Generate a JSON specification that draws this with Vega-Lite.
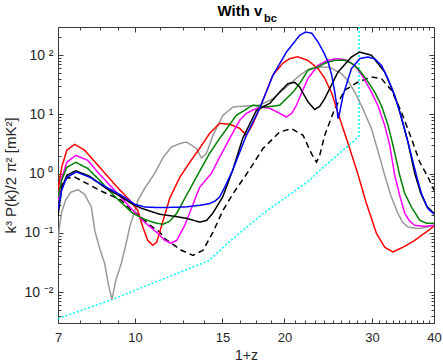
{
  "$schema": "https://vega.github.io/schema/vega-lite/v6.json",
  "autosize": "none",
  "padding": {"left": 58, "top": 27, "right": 9, "bottom": 41},
  "width": 376,
  "height": 296,
  "background": "white",
  "config": {
    "view": {"stroke": "#3a3a3a", "strokeWidth": 1},
    "font": "Liberation Sans",
    "axis": {
      "grid": false,
      "domain": false,
      "tickColor": "#3a3a3a",
      "tickWidth": 1,
      "labelFont": "Liberation Sans",
      "labelFontSize": 13,
      "labelColor": "#262626",
      "titleFont": "Liberation Sans",
      "titleFontSize": 14,
      "titleFontWeight": "normal",
      "titleColor": "#262626",
      "labelOverlap": false,
      "labelFlush": false,
      "labelBound": false
    }
  },
  "datasets": {
    "curves": [
      {"s": "cyan", "x": 7.0, "y": 0.00356},
      {"s": "cyan", "x": 8.99, "y": 0.00745},
      {"s": "cyan", "x": 12.6, "y": 0.0233},
      {"s": "cyan", "x": 14.08, "y": 0.0337},
      {"s": "cyan", "x": 15.52, "y": 0.072},
      {"s": "cyan", "x": 18.1, "y": 0.211},
      {"s": "cyan", "x": 22.48, "y": 0.773},
      {"s": "cyan", "x": 23.37, "y": 1.07},
      {"s": "cyan", "x": 27.91, "y": 3.91},
      {"s": "cyan", "x": 28.25, "y": 4.3},
      {"s": "cyan", "x": 28.26, "y": 1000},

      {"s": "gray", "x": 7.0, "y": 0.0748},
      {"s": "gray", "x": 7.05, "y": 0.129},
      {"s": "gray", "x": 7.12, "y": 0.222},
      {"s": "gray", "x": 7.25, "y": 0.355},
      {"s": "gray", "x": 7.42, "y": 0.484},
      {"s": "gray", "x": 7.68, "y": 0.537},
      {"s": "gray", "x": 7.92, "y": 0.448},
      {"s": "gray", "x": 8.17, "y": 0.273},
      {"s": "gray", "x": 8.3, "y": 0.11},
      {"s": "gray", "x": 8.49, "y": 0.0548},
      {"s": "gray", "x": 8.69, "y": 0.0306},
      {"s": "gray", "x": 8.85, "y": 0.013},
      {"s": "gray", "x": 8.99, "y": 0.00745},
      {"s": "gray", "x": 9.15, "y": 0.0158},
      {"s": "gray", "x": 9.39, "y": 0.0306},
      {"s": "gray", "x": 9.58, "y": 0.0616},
      {"s": "gray", "x": 9.76, "y": 0.1256},
      {"s": "gray", "x": 10.0, "y": 0.24},
      {"s": "gray", "x": 10.14, "y": 0.355},
      {"s": "gray", "x": 10.46, "y": 0.565},
      {"s": "gray", "x": 10.96, "y": 1.01},
      {"s": "gray", "x": 11.37, "y": 1.82},
      {"s": "gray", "x": 11.84, "y": 2.82},
      {"s": "gray", "x": 12.31, "y": 3.22},
      {"s": "gray", "x": 12.69, "y": 3.42},
      {"s": "gray", "x": 13.01, "y": 3.01},
      {"s": "gray", "x": 13.3, "y": 2.65},
      {"s": "gray", "x": 13.61, "y": 1.84},
      {"s": "gray", "x": 13.93, "y": 2.21},
      {"s": "gray", "x": 14.36, "y": 4.44},
      {"s": "gray", "x": 15.04, "y": 9.67},
      {"s": "gray", "x": 15.76, "y": 13.4},
      {"s": "gray", "x": 16.76, "y": 13.9},
      {"s": "gray", "x": 17.83, "y": 14.3},
      {"s": "gray", "x": 18.96, "y": 18.5},
      {"s": "gray", "x": 20.18, "y": 29.1},
      {"s": "gray", "x": 21.46, "y": 45.8},
      {"s": "gray", "x": 22.48, "y": 59.5},
      {"s": "gray", "x": 23.73, "y": 63.3},
      {"s": "gray", "x": 24.67, "y": 62.5},
      {"s": "gray", "x": 26.03, "y": 49.0},
      {"s": "gray", "x": 26.81, "y": 37.7},
      {"s": "gray", "x": 27.7, "y": 23.9},
      {"s": "gray", "x": 28.74, "y": 12.7},
      {"s": "gray", "x": 29.93, "y": 5.77},
      {"s": "gray", "x": 30.82, "y": 2.48},
      {"s": "gray", "x": 31.83, "y": 0.937},
      {"s": "gray", "x": 32.73, "y": 0.431},
      {"s": "gray", "x": 33.85, "y": 0.211},
      {"s": "gray", "x": 34.59, "y": 0.151},
      {"s": "gray", "x": 35.45, "y": 0.1256},
      {"s": "gray", "x": 37.15, "y": 0.118},
      {"s": "gray", "x": 38.68, "y": 0.124},
      {"s": "gray", "x": 40.0, "y": 0.134},

      {"s": "dashed", "x": 7.0, "y": 0.383},
      {"s": "dashed", "x": 7.12, "y": 0.635},
      {"s": "dashed", "x": 7.29, "y": 0.834},
      {"s": "dashed", "x": 7.56, "y": 0.877},
      {"s": "dashed", "x": 7.92, "y": 0.714},
      {"s": "dashed", "x": 8.49, "y": 0.523},
      {"s": "dashed", "x": 9.39, "y": 0.355},
      {"s": "dashed", "x": 9.83, "y": 0.24},
      {"s": "dashed", "x": 10.22, "y": 0.198},
      {"s": "dashed", "x": 10.62, "y": 0.143},
      {"s": "dashed", "x": 11.22, "y": 0.103},
      {"s": "dashed", "x": 11.48, "y": 0.0799},
      {"s": "dashed", "x": 12.4, "y": 0.0507},
      {"s": "dashed", "x": 13.09, "y": 0.0417},
      {"s": "dashed", "x": 13.71, "y": 0.0507},
      {"s": "dashed", "x": 14.36, "y": 0.103},
      {"s": "dashed", "x": 15.04, "y": 0.24},
      {"s": "dashed", "x": 15.76, "y": 0.46},
      {"s": "dashed", "x": 16.89, "y": 1.07},
      {"s": "dashed", "x": 18.1, "y": 2.65},
      {"s": "dashed", "x": 19.56, "y": 5.05},
      {"s": "dashed", "x": 20.66, "y": 5.77},
      {"s": "dashed", "x": 21.8, "y": 4.44},
      {"s": "dashed", "x": 22.67, "y": 2.18},
      {"s": "dashed", "x": 23.2, "y": 1.57},
      {"s": "dashed", "x": 23.55, "y": 2.04},
      {"s": "dashed", "x": 24.1, "y": 4.44},
      {"s": "dashed", "x": 25.25, "y": 12.5},
      {"s": "dashed", "x": 26.45, "y": 25.6},
      {"s": "dashed", "x": 28.12, "y": 35.3},
      {"s": "dashed", "x": 29.93, "y": 42.9},
      {"s": "dashed", "x": 31.35, "y": 40.3},
      {"s": "dashed", "x": 32.84, "y": 25.6},
      {"s": "dashed", "x": 34.39, "y": 11.0},
      {"s": "dashed", "x": 36.03, "y": 3.91},
      {"s": "dashed", "x": 37.44, "y": 1.57},
      {"s": "dashed", "x": 38.9, "y": 0.877},
      {"s": "dashed", "x": 40.0, "y": 0.523},

      {"s": "red", "x": 7.0, "y": 0.523},
      {"s": "red", "x": 7.12, "y": 1.28},
      {"s": "red", "x": 7.29, "y": 2.48},
      {"s": "red", "x": 7.56, "y": 3.13},
      {"s": "red", "x": 7.92, "y": 2.48},
      {"s": "red", "x": 8.49, "y": 1.28},
      {"s": "red", "x": 9.1, "y": 0.66},
      {"s": "red", "x": 9.76, "y": 0.355},
      {"s": "red", "x": 10.13, "y": 0.24},
      {"s": "red", "x": 10.37, "y": 0.1256},
      {"s": "red", "x": 10.61, "y": 0.0748},
      {"s": "red", "x": 10.86, "y": 0.0616},
      {"s": "red", "x": 11.06, "y": 0.0692},
      {"s": "red", "x": 11.32, "y": 0.134},
      {"s": "red", "x": 11.75, "y": 0.383},
      {"s": "red", "x": 12.31, "y": 0.867},
      {"s": "red", "x": 12.89, "y": 1.55},
      {"s": "red", "x": 13.5, "y": 2.68},
      {"s": "red", "x": 14.14, "y": 4.8},
      {"s": "red", "x": 14.81, "y": 7.08},
      {"s": "red", "x": 15.52, "y": 6.82},
      {"s": "red", "x": 16.25, "y": 5.83},
      {"s": "red", "x": 16.76, "y": 4.44},
      {"s": "red", "x": 17.26, "y": 6.82},
      {"s": "red", "x": 17.83, "y": 12.7},
      {"s": "red", "x": 18.94, "y": 45.8},
      {"s": "red", "x": 19.84, "y": 73.1},
      {"s": "red", "x": 20.5, "y": 87.7},
      {"s": "red", "x": 21.27, "y": 94.1},
      {"s": "red", "x": 22.27, "y": 82.1},
      {"s": "red", "x": 23.34, "y": 60.2},
      {"s": "red", "x": 24.1, "y": 40.8},
      {"s": "red", "x": 24.9, "y": 22.8},
      {"s": "red", "x": 25.6, "y": 10.9},
      {"s": "red", "x": 26.81, "y": 3.38},
      {"s": "red", "x": 28.08, "y": 1.01},
      {"s": "red", "x": 29.24, "y": 0.315},
      {"s": "red", "x": 30.63, "y": 0.0982},
      {"s": "red", "x": 31.83, "y": 0.057},
      {"s": "red", "x": 33.08, "y": 0.0475},
      {"s": "red", "x": 34.92, "y": 0.0592},
      {"s": "red", "x": 36.58, "y": 0.0748},
      {"s": "red", "x": 40.0, "y": 0.129},

      {"s": "magenta", "x": 7.0, "y": 0.354},
      {"s": "magenta", "x": 7.12, "y": 0.834},
      {"s": "magenta", "x": 7.29, "y": 1.55},
      {"s": "magenta", "x": 7.6, "y": 2.04},
      {"s": "magenta", "x": 8.03, "y": 1.68},
      {"s": "magenta", "x": 8.49, "y": 0.975},
      {"s": "magenta", "x": 9.1, "y": 0.523},
      {"s": "magenta", "x": 9.9, "y": 0.24},
      {"s": "magenta", "x": 10.46, "y": 0.151},
      {"s": "magenta", "x": 11.06, "y": 0.102},
      {"s": "magenta", "x": 11.48, "y": 0.0748},
      {"s": "magenta", "x": 11.8, "y": 0.0666},
      {"s": "magenta", "x": 12.14, "y": 0.0748},
      {"s": "magenta", "x": 12.6, "y": 0.134},
      {"s": "magenta", "x": 13.5, "y": 0.588},
      {"s": "magenta", "x": 14.25, "y": 1.01},
      {"s": "magenta", "x": 14.81, "y": 1.89},
      {"s": "magenta", "x": 15.52, "y": 3.95},
      {"s": "magenta", "x": 16.25, "y": 7.96},
      {"s": "magenta", "x": 16.76, "y": 10.45},
      {"s": "magenta", "x": 17.83, "y": 13.4},
      {"s": "magenta", "x": 18.68, "y": 12.7},
      {"s": "magenta", "x": 19.56, "y": 10.45},
      {"s": "magenta", "x": 20.18, "y": 9.05},
      {"s": "magenta", "x": 20.69, "y": 10.45},
      {"s": "magenta", "x": 21.14, "y": 14.3},
      {"s": "magenta", "x": 21.67, "y": 23.6},
      {"s": "magenta", "x": 22.31, "y": 40.8},
      {"s": "magenta", "x": 23.37, "y": 67.6},
      {"s": "magenta", "x": 24.44, "y": 82.1},
      {"s": "magenta", "x": 25.63, "y": 87.7},
      {"s": "magenta", "x": 26.69, "y": 82.1},
      {"s": "magenta", "x": 27.7, "y": 67.6},
      {"s": "magenta", "x": 28.74, "y": 44.1},
      {"s": "magenta", "x": 29.93, "y": 23.9},
      {"s": "magenta", "x": 30.82, "y": 14.3},
      {"s": "magenta", "x": 31.83, "y": 6.55},
      {"s": "magenta", "x": 32.58, "y": 3.01},
      {"s": "magenta", "x": 33.34, "y": 0.937},
      {"s": "magenta", "x": 34.12, "y": 0.431},
      {"s": "magenta", "x": 34.92, "y": 0.214},
      {"s": "magenta", "x": 35.74, "y": 0.157},
      {"s": "magenta", "x": 36.58, "y": 0.134},
      {"s": "magenta", "x": 38.32, "y": 0.129},
      {"s": "magenta", "x": 40.0, "y": 0.134},

      {"s": "green", "x": 7.0, "y": 0.398},
      {"s": "green", "x": 7.12, "y": 0.772},
      {"s": "green", "x": 7.29, "y": 1.28},
      {"s": "green", "x": 7.6, "y": 1.55},
      {"s": "green", "x": 8.03, "y": 1.23},
      {"s": "green", "x": 8.49, "y": 0.772},
      {"s": "green", "x": 9.1, "y": 0.414},
      {"s": "green", "x": 9.9, "y": 0.214},
      {"s": "green", "x": 10.46, "y": 0.169},
      {"s": "green", "x": 10.96, "y": 0.148},
      {"s": "green", "x": 11.37, "y": 0.139},
      {"s": "green", "x": 11.75, "y": 0.157},
      {"s": "green", "x": 12.14, "y": 0.214},
      {"s": "green", "x": 12.6, "y": 0.383},
      {"s": "green", "x": 13.5, "y": 1.1},
      {"s": "green", "x": 14.14, "y": 2.21},
      {"s": "green", "x": 14.81, "y": 3.95},
      {"s": "green", "x": 16.0, "y": 9.67},
      {"s": "green", "x": 17.26, "y": 14.3},
      {"s": "green", "x": 18.39, "y": 13.4},
      {"s": "green", "x": 19.56, "y": 14.3},
      {"s": "green", "x": 20.82, "y": 23.9},
      {"s": "green", "x": 21.47, "y": 33.6},
      {"s": "green", "x": 22.31, "y": 55.7},
      {"s": "green", "x": 23.34, "y": 63.3},
      {"s": "green", "x": 24.22, "y": 74.5},
      {"s": "green", "x": 25.25, "y": 82.1},
      {"s": "green", "x": 26.45, "y": 82.1},
      {"s": "green", "x": 27.32, "y": 73.1},
      {"s": "green", "x": 28.12, "y": 59.5},
      {"s": "green", "x": 29.15, "y": 40.8},
      {"s": "green", "x": 30.39, "y": 23.9},
      {"s": "green", "x": 31.39, "y": 13.7},
      {"s": "green", "x": 32.33, "y": 6.55},
      {"s": "green", "x": 33.19, "y": 2.68},
      {"s": "green", "x": 34.12, "y": 0.937},
      {"s": "green", "x": 34.92, "y": 0.465},
      {"s": "green", "x": 36.03, "y": 0.273},
      {"s": "green", "x": 37.44, "y": 0.163},
      {"s": "green", "x": 38.68, "y": 0.145},
      {"s": "green", "x": 40.0, "y": 0.145},

      {"s": "black", "x": 7.0, "y": 0.19},
      {"s": "black", "x": 7.12, "y": 0.565},
      {"s": "black", "x": 7.29, "y": 0.937},
      {"s": "black", "x": 7.6, "y": 1.12},
      {"s": "black", "x": 8.11, "y": 0.902},
      {"s": "black", "x": 8.69, "y": 0.588},
      {"s": "black", "x": 9.39, "y": 0.403},
      {"s": "black", "x": 9.9, "y": 0.303},
      {"s": "black", "x": 10.3, "y": 0.26},
      {"s": "black", "x": 11.22, "y": 0.206},
      {"s": "black", "x": 12.02, "y": 0.19},
      {"s": "black", "x": 12.69, "y": 0.176},
      {"s": "black", "x": 13.5, "y": 0.152},
      {"s": "black", "x": 13.95, "y": 0.163},
      {"s": "black", "x": 14.34, "y": 0.214},
      {"s": "black", "x": 15.02, "y": 0.403},
      {"s": "black", "x": 15.73, "y": 1.14},
      {"s": "black", "x": 16.48, "y": 3.95},
      {"s": "black", "x": 17.56, "y": 11.7},
      {"s": "black", "x": 18.68, "y": 15.4},
      {"s": "black", "x": 19.56, "y": 23.9},
      {"s": "black", "x": 20.33, "y": 33.2},
      {"s": "black", "x": 20.97, "y": 34.9},
      {"s": "black", "x": 21.46, "y": 29.1},
      {"s": "black", "x": 22.31, "y": 16.2},
      {"s": "black", "x": 23.01, "y": 12.1},
      {"s": "black", "x": 23.55, "y": 13.7},
      {"s": "black", "x": 24.1, "y": 18.5},
      {"s": "black", "x": 25.63, "y": 52.1},
      {"s": "black", "x": 27.28, "y": 93.4},
      {"s": "black", "x": 28.35, "y": 113},
      {"s": "black", "x": 29.93, "y": 99.8},
      {"s": "black", "x": 31.83, "y": 52.1},
      {"s": "black", "x": 32.88, "y": 27.6},
      {"s": "black", "x": 33.85, "y": 14.3},
      {"s": "black", "x": 35.45, "y": 3.42},
      {"s": "black", "x": 36.58, "y": 1.01},
      {"s": "black", "x": 37.62, "y": 0.465},
      {"s": "black", "x": 38.68, "y": 0.281},
      {"s": "black", "x": 40.0, "y": 0.214},

      {"s": "blue", "x": 7.0, "y": 0.24},
      {"s": "blue", "x": 7.12, "y": 0.523},
      {"s": "blue", "x": 7.29, "y": 0.867},
      {"s": "blue", "x": 7.62, "y": 1.07},
      {"s": "blue", "x": 8.11, "y": 0.867},
      {"s": "blue", "x": 8.69, "y": 0.611},
      {"s": "blue", "x": 9.39, "y": 0.431},
      {"s": "blue", "x": 10.0, "y": 0.303},
      {"s": "blue", "x": 10.46, "y": 0.273},
      {"s": "blue", "x": 11.22, "y": 0.267},
      {"s": "blue", "x": 12.6, "y": 0.273},
      {"s": "blue", "x": 13.5, "y": 0.292},
      {"s": "blue", "x": 14.14, "y": 0.312},
      {"s": "blue", "x": 14.47, "y": 0.341},
      {"s": "blue", "x": 14.81, "y": 0.403},
      {"s": "blue", "x": 15.23, "y": 0.635},
      {"s": "blue", "x": 15.73, "y": 1.14},
      {"s": "blue", "x": 16.76, "y": 4.44},
      {"s": "blue", "x": 17.83, "y": 12.7},
      {"s": "blue", "x": 18.96, "y": 45.8},
      {"s": "blue", "x": 20.18, "y": 113},
      {"s": "blue", "x": 21.46, "y": 217},
      {"s": "blue", "x": 22.07, "y": 247},
      {"s": "blue", "x": 22.7, "y": 235},
      {"s": "blue", "x": 23.37, "y": 167},
      {"s": "blue", "x": 23.99, "y": 112},
      {"s": "blue", "x": 24.48, "y": 76.9},
      {"s": "blue", "x": 24.9, "y": 45.8},
      {"s": "blue", "x": 25.25, "y": 23.9},
      {"s": "blue", "x": 25.48, "y": 14.3},
      {"s": "blue", "x": 25.63, "y": 8.5},
      {"s": "blue", "x": 25.84, "y": 10.9},
      {"s": "blue", "x": 26.24, "y": 21.0},
      {"s": "blue", "x": 27.28, "y": 59.5},
      {"s": "blue", "x": 28.35, "y": 87.7},
      {"s": "blue", "x": 29.45, "y": 93.4},
      {"s": "blue", "x": 30.39, "y": 87.1},
      {"s": "blue", "x": 31.35, "y": 67.6},
      {"s": "blue", "x": 32.28, "y": 40.8},
      {"s": "blue", "x": 33.34, "y": 21.0},
      {"s": "blue", "x": 34.43, "y": 8.6},
      {"s": "blue", "x": 35.45, "y": 3.42},
      {"s": "blue", "x": 36.87, "y": 0.937},
      {"s": "blue", "x": 37.73, "y": 0.46},
      {"s": "blue", "x": 38.9, "y": 0.257},
      {"s": "blue", "x": 40.0, "y": 0.206}
    ],
    "frame": [
      {"x": 7, "y": 0.003},
      {"x": 40, "y": 300}
    ]
  },
  "layer": [
    {
      "data": {"name": "curves"},
      "mark": {"type": "line", "clip": true, "strokeWidth": 1.5},
      "encoding": {
        "x": {
          "field": "x", "type": "quantitative",
          "scale": {"type": "log", "domain": [7, 40], "nice": false, "zero": false},
          "axis": {"orient": "bottom", "values": [7, 10, 15, 20, 30, 40], "format": "d", "tickSize": -5, "labelPadding": 13, "title": "1+z", "titlePadding": 4}
        },
        "y": {
          "field": "y", "type": "quantitative",
          "scale": {"type": "log", "domain": [0.003, 300], "nice": false, "zero": false},
          "axis": {
            "orient": "left",
            "values": [0.01, 0.1, 1, 10, 100],
            "labelExpr": "datum.value >= 50 ? '10 ²' : datum.value >= 5 ? '10 ¹' : datum.value >= 0.5 ? '10 ⁰' : datum.value >= 0.05 ? '10 ⁻¹' : '10 ⁻²'",
            "labelFontSize": 14,
            "tickSize": -5, "labelPadding": 10,
            "title": "k³ P(k)/2 π² [mK²]", "titleFontSize": 15, "titlePadding": 5
          }
        },
        "color": {
          "field": "s", "type": "nominal", "legend": null,
          "scale": {
            "domain": ["cyan", "gray", "dashed", "red", "magenta", "green", "black", "blue"],
            "range": ["#00ffff", "#999999", "#000000", "#ff0000", "#ff00ff", "#008000", "#000000", "#0000ff"]
          }
        },
        "strokeDash": {
          "field": "s", "type": "nominal", "legend": null,
          "scale": {
            "domain": ["cyan", "gray", "dashed", "red", "magenta", "green", "black", "blue"],
            "range": [[2, 2], [1, 0], [6, 4], [1, 0], [1, 0], [1, 0], [1, 0], [1, 0]]
          }
        }
      }
    },
    {
      "data": {"name": "frame"},
      "mark": {"type": "point", "opacity": 0},
      "encoding": {
        "x": {"field": "x", "type": "quantitative",
          "axis": {"orient": "bottom", "values": [7.75, 8.5, 9.25, 11.25, 12.5, 13.75, 16.25, 17.5, 18.75, 21, 22, 23, 24, 25, 26, 27, 28, 29, 31, 32, 33, 34, 35, 36, 37, 38, 39], "labels": false, "title": null, "tickSize": -3}},
        "y": {"field": "y", "type": "quantitative",
          "axis": {"orient": "left", "values": [0.004, 0.005, 0.006, 0.007, 0.008, 0.009, 0.02, 0.03, 0.04, 0.05, 0.06, 0.07, 0.08, 0.09, 0.2, 0.3, 0.4, 0.5, 0.6, 0.7, 0.8, 0.9, 2, 3, 4, 5, 6, 7, 8, 9, 20, 30, 40, 50, 60, 70, 80, 90, 200], "labels": false, "title": null, "tickSize": -3}}
      }
    },
    {
      "data": {"name": "frame"},
      "mark": {"type": "point", "opacity": 0},
      "encoding": {
        "x": {"field": "x", "type": "quantitative",
          "axis": {"orient": "top", "values": [7, 10, 15, 20, 30, 40], "labels": false, "tickSize": -5,
            "title": "bc", "titleX": 212, "titleY": -6, "titleAlign": "center", "titleBaseline": "alphabetic", "titleAngle": 0,
            "titleFontSize": 11, "titleFontWeight": "bold", "titleColor": "#000000"}},
        "y": {"field": "y", "type": "quantitative",
          "axis": {"orient": "right", "values": [0.01, 0.1, 1, 10, 100], "labels": false, "title": null, "tickSize": -5}}
      }
    },
    {
      "data": {"name": "frame"},
      "mark": {"type": "point", "opacity": 0},
      "encoding": {
        "x": {"field": "x", "type": "quantitative",
          "axis": {"orient": "top", "values": [7.75, 8.5, 9.25, 11.25, 12.5, 13.75, 16.25, 17.5, 18.75, 21, 22, 23, 24, 25, 26, 27, 28, 29, 31, 32, 33, 34, 35, 36, 37, 38, 39], "labels": false, "tickSize": -3,
            "title": "With v", "titleX": 181.5, "titleY": -12, "titleAlign": "center", "titleBaseline": "alphabetic", "titleAngle": 0,
            "titleFontSize": 15, "titleFontWeight": "bold", "titleColor": "#000000"}},
        "y": {"field": "y", "type": "quantitative",
          "axis": {"orient": "right", "values": [0.004, 0.005, 0.006, 0.007, 0.008, 0.009, 0.02, 0.03, 0.04, 0.05, 0.06, 0.07, 0.08, 0.09, 0.2, 0.3, 0.4, 0.5, 0.6, 0.7, 0.8, 0.9, 2, 3, 4, 5, 6, 7, 8, 9, 20, 30, 40, 50, 60, 70, 80, 90, 200], "labels": false, "title": null, "tickSize": -3}}
      }
    }
  ],
  "resolve": {"axis": {"x": "independent", "y": "independent"}}
}
